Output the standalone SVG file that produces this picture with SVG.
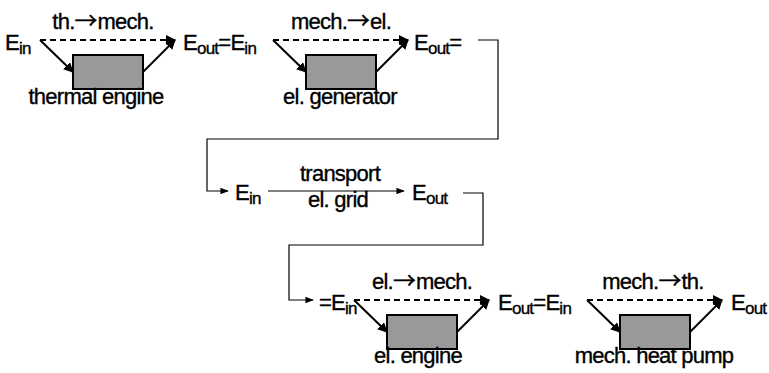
<svg xmlns="http://www.w3.org/2000/svg" width="769" height="373" viewBox="0 0 769 373">
<defs>
<style>
text{font-family:"Liberation Sans",Arial,sans-serif;font-size:22px;letter-spacing:-0.75px;fill:#000;stroke:#000;stroke-width:0.35px}
.sub{font-size:17px}
.arr{font-family:"Noto Sans CJK JP",sans-serif;font-size:23px;letter-spacing:0}
.mid{text-anchor:middle}
.box{fill:#999;stroke:#000;stroke-width:2}
.dash{fill:none;stroke:#000;stroke-width:2;stroke-dasharray:6 4}
.diag{fill:none;stroke:#000;stroke-width:2}
.thin{fill:none;stroke:#000;stroke-width:1.2}
</style>
<marker id="ah" viewBox="0 0 10 10" refX="9" refY="5" markerWidth="5" markerHeight="5" orient="auto" markerUnits="strokeWidth"><path d="M0,0 L10,5 L0,10 z" fill="#000"/></marker>
<marker id="ahs" viewBox="0 0 10 10" refX="9" refY="5" markerWidth="7" markerHeight="7" orient="auto" markerUnits="strokeWidth"><path d="M0,1 L10,5 L0,9 z" fill="#000"/></marker>
</defs>
<rect width="769" height="373" fill="#fff"/>
<g id="connectors">
<line class="dash" x1="40" y1="40" x2="175" y2="40" marker-end="url(#ah)"/>
<line class="diag" x1="40" y1="40" x2="73" y2="72" marker-end="url(#ah)"/>
<line class="diag" x1="143" y1="72" x2="175" y2="40" marker-end="url(#ah)"/>
<line class="dash" x1="273" y1="40" x2="408" y2="40" marker-end="url(#ah)"/>
<line class="diag" x1="273" y1="40" x2="306" y2="72" marker-end="url(#ah)"/>
<line class="diag" x1="376" y1="72" x2="408" y2="40" marker-end="url(#ah)"/>
<polyline class="thin" points="478,40 498,40 498,139 207,139 207,191 228,191" marker-end="url(#ahs)"/>
<line class="thin" x1="268" y1="191" x2="404" y2="191" marker-end="url(#ahs)"/>
<polyline class="thin" points="463,193 483,193 483,245 289,245 289,300 313,300" marker-end="url(#ahs)"/>
<line class="dash" x1="354" y1="300" x2="489" y2="300" marker-end="url(#ah)"/>
<line class="diag" x1="354" y1="300" x2="387" y2="332" marker-end="url(#ah)"/>
<line class="diag" x1="457" y1="332" x2="489" y2="300" marker-end="url(#ah)"/>
<line class="dash" x1="587" y1="300" x2="722" y2="300" marker-end="url(#ah)"/>
<line class="diag" x1="587" y1="300" x2="620" y2="332" marker-end="url(#ah)"/>
<line class="diag" x1="690" y1="332" x2="722" y2="300" marker-end="url(#ah)"/>
</g>
<g id="thermal-engine">
<rect class="box" x="73" y="55" width="70" height="34"/>
<text class="mid" x="103" y="29">th.<tspan class="arr">→</tspan>mech.</text>
<text class="mid" x="96" y="104">thermal engine</text>
</g>
<g id="el-generator">
<rect class="box" x="306" y="55" width="70" height="34"/>
<text class="mid" x="341" y="29">mech.<tspan class="arr">→</tspan>el.</text>
<text class="mid" x="340" y="104">el. generator</text>
</g>
<g id="el-grid">
<text class="mid" x="340" y="181">transport</text>
<text class="mid" x="338" y="207">el. grid</text>
</g>
<g id="el-engine">
<rect class="box" x="387" y="315" width="70" height="34"/>
<text class="mid" x="422" y="289">el.<tspan class="arr">→</tspan>mech.</text>
<text class="mid" x="418" y="363">el. engine</text>
</g>
<g id="heat-pump">
<rect class="box" x="620" y="315" width="70" height="34"/>
<text class="mid" x="653" y="289">mech.<tspan class="arr">→</tspan>th.</text>
<text class="mid" x="654" y="363">mech. heat pump</text>
</g>
<g id="energy-labels">
<text x="5" y="50">E<tspan class="sub" dy="4">in</tspan></text>
<text x="183" y="50">E<tspan class="sub" dy="4">out</tspan><tspan dy="-4">=E</tspan><tspan class="sub" dy="4">in</tspan></text>
<text x="414" y="50">E<tspan class="sub" dy="4">out</tspan><tspan dy="-4">=</tspan></text>
<text x="235" y="200">E<tspan class="sub" dy="4">in</tspan></text>
<text x="412" y="200">E<tspan class="sub" dy="4">out</tspan></text>
<text x="319" y="310">=E<tspan class="sub" dy="4">in</tspan></text>
<text x="498" y="310">E<tspan class="sub" dy="4">out</tspan><tspan dy="-4">=E</tspan><tspan class="sub" dy="4">in</tspan></text>
<text x="731" y="310">E<tspan class="sub" dy="4">out</tspan></text>
</g>
</svg>
